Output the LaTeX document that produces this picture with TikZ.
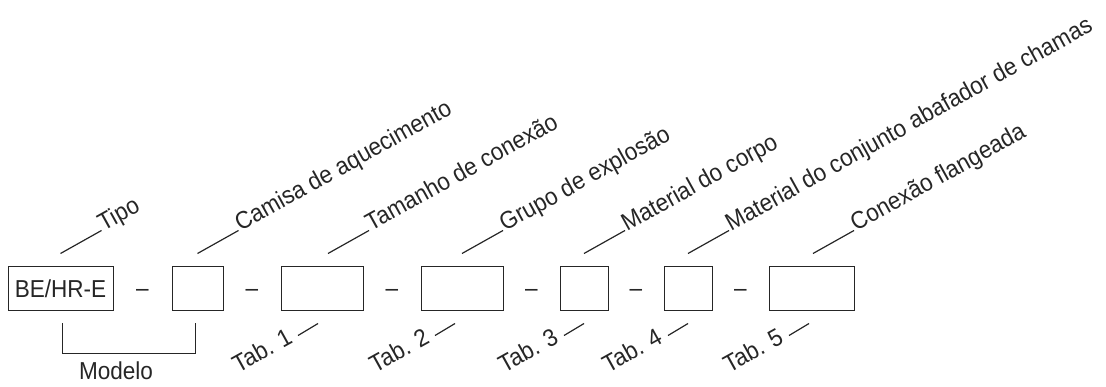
\documentclass[tikz,border=0pt]{standalone}
\usepackage{fontspec}
\setmainfont[FakeStretch=0.92]{Liberation Sans}
\usetikzlibrary{calc}
\definecolor{ink}{HTML}{262626}
\tikzset{
  field/.style={draw=ink, line width=1pt, minimum height=44pt, inner sep=0pt, text=ink},
  leader/.style={draw=ink, line width=1.2pt},
  toplab/.style={text=ink, rotate=29, anchor=base west, inner sep=0pt},
  tablab/.style={text=ink, rotate=29, anchor=base east, inner sep=0pt},
  sep/.style={text=ink, inner sep=0pt, yshift=-3.5pt},
}
\begin{document}
\begin{tikzpicture}[x=1pt,y=-1pt]
\fontsize{24.5}{29}\selectfont
\useasboundingbox (0,0) rectangle (1106,387);
% boxes
\node[field, minimum width=105pt] (b1) at (60.5,289) {BE/HR-E};
\node[field, minimum width=51pt] (b2) at (197.5,289) {};
\node[field, minimum width=82pt] (b3) at (322,289) {};
\node[field, minimum width=82pt] (b4) at (462,289) {};
\node[field, minimum width=48pt] (b5) at (584,289) {};
\node[field, minimum width=48pt] (b6) at (688,289) {};
\node[field, minimum width=85pt] (b7) at (811.5,289) {};
% separators
\node[sep] (s1) at ($(b1.east)!0.5!(b2.west)$) {–};
\node[sep] (s2) at ($(b2.east)!0.5!(b3.west)$) {–};
\node[sep] (s3) at ($(b3.east)!0.5!(b4.west)$) {–};
\node[sep] (s4) at ($(b4.east)!0.5!(b5.west)$) {–};
\node[sep] (s5) at ($(b5.east)!0.5!(b6.west)$) {–};
\node[sep] (s6) at ($(b6.east)!0.5!(b7.west)$) {–};
% top leaders
\coordinate (u1) at ($(b1.north)+(0,-13)$);
\coordinate (u2) at ($(b2.north)+(0,-13)$);
\coordinate (u3) at ($(b3.north)+(6,-13)$);
\coordinate (u4) at ($(b4.north)+(0,-13)$);
\coordinate (u5) at ($(b5.north)+(0,-13)$);
\coordinate (u6) at ($(b6.north)+(0,-13)$);
\coordinate (u7) at ($(b7.north)+(1.5,-13)$);
\foreach \i/\t in {1/Tipo,2/Camisa de aquecimento,3/Tamanho de conexão,4/Grupo de explosão,5/Material do corpo,6/Material do conjunto abafador de chamas,7/Conexão flangeada}{
  \coordinate (v\i) at ($(u\i)+(41,-23)$);
  \draw[leader] (u\i) -- (v\i);
  \node[toplab] (L\i) at ($(v\i)+(2,1)$) {\t};
}
% bottom leaders
\coordinate (e3) at ($(b3.south)+(-4,12)$);
\coordinate (e4) at ($(b4.south)+(-7,12)$);
\coordinate (e5) at ($(b5.south)+(0,12)$);
\coordinate (e6) at ($(b6.south)+(0,12)$);
\coordinate (e7) at ($(b7.south)+(-2.5,12)$);
\foreach \i/\t in {3/Tab. 1,4/Tab. 2,5/Tab. 3,6/Tab. 4,7/Tab. 5}{
  \coordinate (f\i) at ($(e\i)+(-20,12)$);
  \draw[leader] (e\i) -- (f\i);
  \node[tablab] (T\i) at ($(f\i)+(-4,7)$) {\t};
}
% Modelo bracket
\coordinate (m1) at ($(b1.south)+(1.5,12)$);
\coordinate (m2) at ($(b2.south)+(-2.5,12)$);
\draw[leader, line width=1pt] (m1) -- ++(0,30) -| (m2);
\node[text=ink, anchor=base, inner sep=0pt] (mod) at (116,380) {Modelo};
\end{tikzpicture}
\end{document}
